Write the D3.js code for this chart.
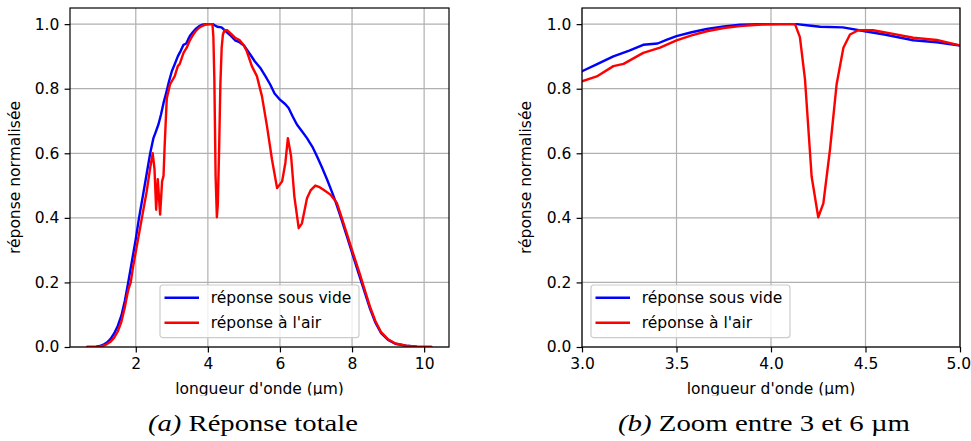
<!DOCTYPE html>
<html><head><meta charset="utf-8">
<script src="https://cdn.jsdelivr.net/npm/d3@7"></script>
<style>body{margin:0;background:#fff}svg{display:block}</style>
</head><body>
<svg id="c" width="971" height="441"></svg>
<script>
// ---- data ----
const wlVide = [0.65,0.9,1.0,1.1,1.2,1.3,1.4,1.5,1.6,1.7,1.79,1.9,2.0,2.09,2.2,2.3,2.40,2.49,2.55,2.63,2.7,2.77,2.85,2.92,3.0,3.08,3.166,3.25,3.324,3.40,3.45,3.5,3.58,3.66,3.75,3.836,3.95,4.05,4.136,4.2,4.26,4.38,4.497,4.6,4.753,4.877,5.0,5.175,5.3,5.45,5.6,5.73,5.85,6.0,6.15,6.24,6.35,6.47,6.6,6.75,6.9,7.03,7.17,7.31,7.45,7.54,7.7,7.86,8.0,8.18,8.35,8.5,8.65,8.8,9.0,9.2,9.5,9.8,10.2];
const repVide = [0,0.001,0.003,0.007,0.014,0.025,0.042,0.065,0.097,0.145,0.200,0.270,0.335,0.400,0.470,0.535,0.600,0.647,0.665,0.690,0.720,0.756,0.790,0.822,0.854,0.876,0.900,0.918,0.936,0.940,0.952,0.963,0.975,0.985,0.993,0.998,1.0,1.0,1.0,0.996,0.992,0.990,0.978,0.968,0.950,0.944,0.934,0.906,0.885,0.865,0.838,0.813,0.785,0.766,0.752,0.740,0.715,0.689,0.670,0.647,0.620,0.590,0.555,0.518,0.478,0.451,0.398,0.342,0.292,0.229,0.170,0.118,0.075,0.044,0.022,0.010,0.004,0.001,0];
const wlAir = [0.65,0.9,1.0,1.1,1.2,1.3,1.4,1.5,1.6,1.7,1.76,1.8,1.86,1.92,2.0,2.17,2.3,2.4,2.47,2.52,2.565,2.61,2.675,2.73,2.77,2.80,2.86,2.95,3.0,3.078,3.166,3.22,3.324,3.413,3.5,3.58,3.66,3.75,3.836,3.95,4.05,4.127,4.153,4.18,4.215,4.25,4.277,4.312,4.347,4.383,4.418,4.462,4.54,4.647,4.753,4.877,5.0,5.08,5.22,5.36,5.5,5.64,5.78,5.92,6.06,6.15,6.22,6.31,6.40,6.52,6.61,6.75,6.85,6.98,7.1,7.21,7.40,7.58,7.7,7.86,8.0,8.2,8.35,8.5,8.65,8.8,9.0,9.2,9.5,9.8,10.2];
const repAir = [0,0.0005,0.002,0.004,0.009,0.016,0.029,0.048,0.078,0.125,0.160,0.180,0.200,0.245,0.295,0.400,0.480,0.555,0.600,0.550,0.425,0.520,0.410,0.513,0.530,0.620,0.770,0.813,0.823,0.838,0.870,0.877,0.911,0.927,0.950,0.965,0.978,0.988,0.994,0.999,1.0,1.0,0.960,0.828,0.528,0.402,0.445,0.611,0.813,0.927,0.968,0.981,0.981,0.970,0.958,0.951,0.934,0.916,0.870,0.839,0.777,0.684,0.580,0.492,0.513,0.570,0.647,0.590,0.466,0.368,0.383,0.461,0.485,0.500,0.495,0.487,0.472,0.446,0.405,0.350,0.300,0.232,0.178,0.124,0.080,0.047,0.024,0.011,0.004,0.001,0];
const xTicksA = [2,4,6,8,10];
const xTicksB = [3.0,3.5,4.0,4.5,5.0];
const yTicks = [0.0,0.2,0.4,0.6,0.8,1.0];
const seriesNames = ["réponse sous vide","réponse à l'air"];
const seriesColors = ["#0000ff","#ff0000"];
const xLabel = "longueur d'onde (µm)";
const yLabel = "réponse normalisée";
const captionTags = ["(a)","(b)"];
const captionTexts = [" Réponse totale"," Zoom entre 3 et 6 µm"];

// ---- drawing ----
const svg = d3.select("#c");
const FONT = "'DejaVu Sans', sans-serif";
const FS = 15.5;
const series = [
  d3.zip(wlVide, repVide),
  d3.zip(wlAir, repAir)
];

function panel(o, idx){
  const x = d3.scaleLinear().domain(o.xDomain).range([o.left, o.right]);
  const y = d3.scaleLinear().domain([0, 1.05]).range([o.bottom, o.top]);
  const g = svg.append("g");
  const cid = "clip" + idx;
  svg.append("clipPath").attr("id", cid).append("rect")
    .attr("x", o.left).attr("y", o.top).attr("width", o.right - o.left).attr("height", o.bottom - o.top);
  // grid
  g.append("g").selectAll("line").data(o.xTicks).join("line")
    .attr("x1", d => x(d)).attr("x2", d => x(d)).attr("y1", o.top).attr("y2", o.bottom)
    .attr("stroke", "#b0b0b0").attr("stroke-width", 1.2);
  g.append("g").selectAll("line").data(yTicks).join("line")
    .attr("y1", d => y(d)).attr("y2", d => y(d)).attr("x1", o.left).attr("x2", o.right)
    .attr("stroke", "#b0b0b0").attr("stroke-width", 1.2);
  // lines
  const line = d3.line().x(d => x(d[0])).y(d => y(d[1]));
  g.append("g").attr("clip-path", `url(#${cid})`).selectAll("path").data(series).join("path")
    .attr("d", line).attr("fill", "none")
    .attr("stroke", (d, i) => seriesColors[i]).attr("stroke-width", 2.4)
    .attr("stroke-linejoin", "round").attr("stroke-linecap", "round");
  // axes
  const ax = g.append("g").attr("transform", `translate(0,${o.bottom})`)
    .call(d3.axisBottom(x).tickValues(o.xTicks).tickFormat(o.xFmt).tickSize(5.4).tickPadding(5.2));
  const ay = g.append("g").attr("transform", `translate(${o.left},0)`)
    .call(d3.axisLeft(y).tickValues(yTicks).tickFormat(d3.format(".1f")).tickSize(5.4).tickPadding(5.2));
  [ax, ay].forEach(a => {
    a.select(".domain").remove();
    a.selectAll(".tick line").attr("stroke", "#000").attr("stroke-width", 1.2);
    a.selectAll(".tick text").attr("fill", "#000").style("font-family", FONT).style("font-size", FS + "px");
  });
  if (o.lastShift) ax.selectAll(".tick:last-of-type text").attr("dx", o.lastShift);
  // frame
  g.append("rect").attr("x", o.left).attr("y", o.top).attr("width", o.right - o.left).attr("height", o.bottom - o.top)
    .attr("fill", "none").attr("stroke", "#000").attr("stroke-width", 1.2);
  // labels
  const lclip = "lclip" + idx;
  svg.append("clipPath").attr("id", lclip).append("rect")
    .attr("x", o.left - 80).attr("y", 0).attr("width", o.right - o.left + 160).attr("height", 395.4);
  g.append("text").attr("x", (o.left + o.right) / 2).attr("y", 394)
    .attr("text-anchor", "middle").attr("clip-path", `url(#${lclip})`)
    .style("font-family", FONT).style("font-size", FS + "px").attr("fill", "#000").text(xLabel);
  g.append("text").attr("transform", `translate(${o.yLabX},${(o.top + o.bottom) / 2}) rotate(-90)`)
    .attr("text-anchor", "middle")
    .style("font-family", FONT).style("font-size", FS + "px").attr("fill", "#000").text(yLabel);
  // legend
  const lg = g.append("g");
  const box = lg.append("rect").attr("rx", 3).attr("ry", 3)
    .attr("fill", "#fff").attr("fill-opacity", 0.8).attr("stroke", "#cccccc").attr("stroke-width", 1.2);
  const rows = [o.bottom - 49.3, o.bottom - 24.3];
  let maxW = 0;
  seriesNames.forEach((n, i) => {
    lg.append("line").attr("x1", 4.5).attr("x2", 39).attr("y1", rows[i]).attr("y2", rows[i])
      .attr("stroke", seriesColors[i]).attr("stroke-width", 2.4);
    const t = lg.append("text").attr("x", 50.8).attr("y", rows[i]).attr("dy", "0.35em")
      .style("font-family", FONT).style("font-size", FS + "px").attr("fill", "#000").text(n);
    maxW = Math.max(maxW, t.node().getComputedTextLength());
  });
  const bw = 50.8 + maxW + 7.7;
  box.attr("x", 0).attr("y", o.bottom - 62).attr("width", bw).attr("height", 52.7);
  const lx = o.legend === "center" ? (o.left + o.right) / 2 - bw / 2 : o.left + 9;
  lg.attr("transform", `translate(${lx},0)`);
  // caption
  const cap = svg.append("text").attr("x", o.capX).attr("y", 431)
    .attr("textLength", o.capW).attr("lengthAdjust", "spacingAndGlyphs")
    .style("font-family", "'Liberation Serif', serif").style("font-size", "24px").attr("fill", "#000");
  cap.append("tspan").style("font-style", "italic").text(captionTags[idx]);
  cap.append("tspan").text(captionTexts[idx]);
}

panel({left:70, right:449, top:8, bottom:347, xDomain:[0.175,10.69], xTicks:xTicksA, xFmt:d3.format("d"),
       yLabX:19.6, legend:"center", capX:148, capW:210}, 0);
panel({left:582, right:960, top:8, bottom:347, xDomain:[3,5], xTicks:xTicksB, xFmt:d3.format(".1f"),
       yLabX:531.3, legend:"left", capX:618, capW:292, lastShift:-1.8}, 1);
</script>
</body></html>
